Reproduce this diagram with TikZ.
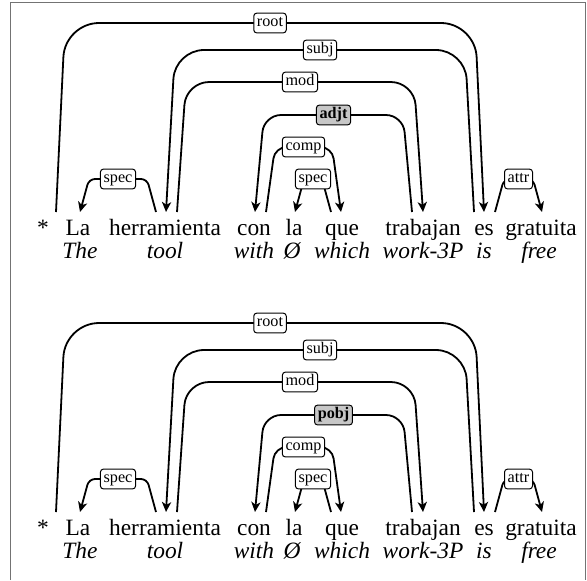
\documentclass[tikz,border=0pt]{standalone}
\usepackage{fontspec}
\setmainfont{Liberation Serif}
\usetikzlibrary{arrows.meta,calc}
\begin{document}
\begin{tikzpicture}[x=0.5pt,y=-0.5pt,
  word/.style={anchor=base,inner sep=0pt,font=\fontsize{11.7}{14}\selectfont},
  gloss/.style={anchor=base,inner sep=0pt,font=\fontsize{11.7}{14}\selectfont\itshape},
  dep/.style={line width=0.9pt,-{Stealth[length=5pt,width=4.6pt,inset=1.4pt]}},
  deplabel/.style={draw,line width=0.5pt,fill=white,rounded corners=1.5pt,inner xsep=1.6pt,inner ysep=1.1pt,text height=5.8pt,text depth=1.9pt,font=\fontsize{8.1}{9}\selectfont},
  hilabel/.style={deplabel,fill=black!22,font=\fontsize{8.1}{9}\selectfont\bfseries},
  frameline/.style={draw=black!55,line width=0.5pt}]
\useasboundingbox (0,0) rectangle (587,580);
\coordinate (fBL) at (10.5,580);
\coordinate (fTL) at (10.5,2.5);
\coordinate (fTR) at (585,2.5);
\coordinate (fBR) at (585,580);
\draw[frameline] (fBL) -- (fTL) -- (fTR) -- (fBR);

\foreach \dy/\lab/\p in {0/adjt/a,300/pobj/b}{
\begin{scope}[yshift={-\dy*0.5pt}]
  % words
  \node[word] (star\p) at (43,235) {*};
  \node[word] (La\p) at (78,235) {La};
  \node[word] (herr\p) at (165,235) {herramienta};
  \node[word] (con\p) at (254,235) {con};
  \node[word] (la\p) at (294,235) {la};
  \node[word] (que\p) at (342,235) {que};
  \node[word] (trab\p) at (423,235) {trabajan};
  \node[word] (es\p) at (484,235) {es};
  \node[word] (grat\p) at (541,235) {gratuita};
  % glosses
  \node[gloss] (gThe\p) at (80,258) {The};
  \node[gloss] (gtool\p) at (165,258) {tool};
  \node[gloss] (gwith\p) at (254,258) {with};
  \node[gloss] (gnull\p) at (292,258) {Ø};
  \node[gloss] (gwhich\p) at (342,258) {which};
  \node[gloss] (gwork\p) at (423,258) {work-3P};
  \node[gloss] (gis\p) at (484,258) {is};
  \node[gloss] (gfree\p) at (539,258) {free};
  % arc end points
  \coordinate (rootS\p) at (56,212);
  \coordinate (rootE\p) at (484,212);
  \coordinate (subjS\p) at (474,212);
  \coordinate (subjE\p) at (166,212);
  \coordinate (modS\p) at (177,212);
  \coordinate (modE\p) at (423,212);
  \coordinate (adjS\p) at (412,212);
  \coordinate (adjE\p) at (255,212);
  \coordinate (compS\p) at (266,212);
  \coordinate (compE\p) at (341,212);
  \coordinate (specbS\p) at (331,212);
  \coordinate (specbE\p) at (295,212);
  \coordinate (specaS\p) at (156,212);
  \coordinate (specaE\p) at (80,212);
  \coordinate (attrS\p) at (495,212);
  \coordinate (attrE\p) at (542,212);
  % arcs
  \draw[dep,rounded corners=17pt] (rootS\p) -- ++(9,-189) -- ($(rootE\p)+(-9,-189)$) -- (rootE\p);
  \draw[dep,rounded corners=14.5pt] (subjS\p) -- ++(-9,-162) -- ($(subjE\p)+(9,-162)$) -- (subjE\p);
  \draw[dep,rounded corners=11.5pt] (modS\p) -- ++(9,-130) -- ($(modE\p)+(-9,-130)$) -- (modE\p);
  \draw[dep,rounded corners=8.5pt] (adjS\p) -- ++(-9,-97) -- ($(adjE\p)+(9,-97)$) -- (adjE\p);
  \draw[dep,rounded corners=5.8pt] (compS\p) -- ++(9,-65) -- ($(compE\p)+(-9,-65)$) -- (compE\p);
  \draw[dep,rounded corners=3pt] (specbS\p) -- ++(-9,-33) -- ($(specbE\p)+(9,-33)$) -- (specbE\p);
  \draw[dep,rounded corners=3pt] (specaS\p) -- ++(-9,-33) -- ($(specaE\p)+(9,-33)$) -- (specaE\p);
  \draw[dep,rounded corners=3pt] (attrS\p) -- ++(9,-33) -- ($(attrE\p)+(-9,-33)$) -- (attrE\p);
  % labels
  \node[deplabel] (lroot\p) at ($(rootS\p)!0.5!(rootE\p)+(0,-189)$) {root};
  \node[deplabel] (lsubj\p) at ($(subjS\p)!0.5!(subjE\p)+(0,-162)$) {subj};
  \node[deplabel] (lmod\p) at ($(modS\p)!0.5!(modE\p)+(0,-130)$) {mod};
  \node[hilabel] (ladj\p) at ($(adjS\p)!0.5!(adjE\p)+(0,-97)$) {\lab};
  \node[deplabel] (lcomp\p) at ($(compS\p)!0.5!(compE\p)+(0,-65)$) {comp};
  \node[deplabel] (lspecb\p) at ($(specbS\p)!0.5!(specbE\p)+(0,-33)$) {spec};
  \node[deplabel] (lspeca\p) at ($(specaS\p)!0.5!(specaE\p)+(0,-33)$) {spec};
  \node[deplabel] (lattr\p) at ($(attrS\p)!0.5!(attrE\p)+(0,-33)$) {attr};
\end{scope}
}
\end{tikzpicture}
\end{document}
